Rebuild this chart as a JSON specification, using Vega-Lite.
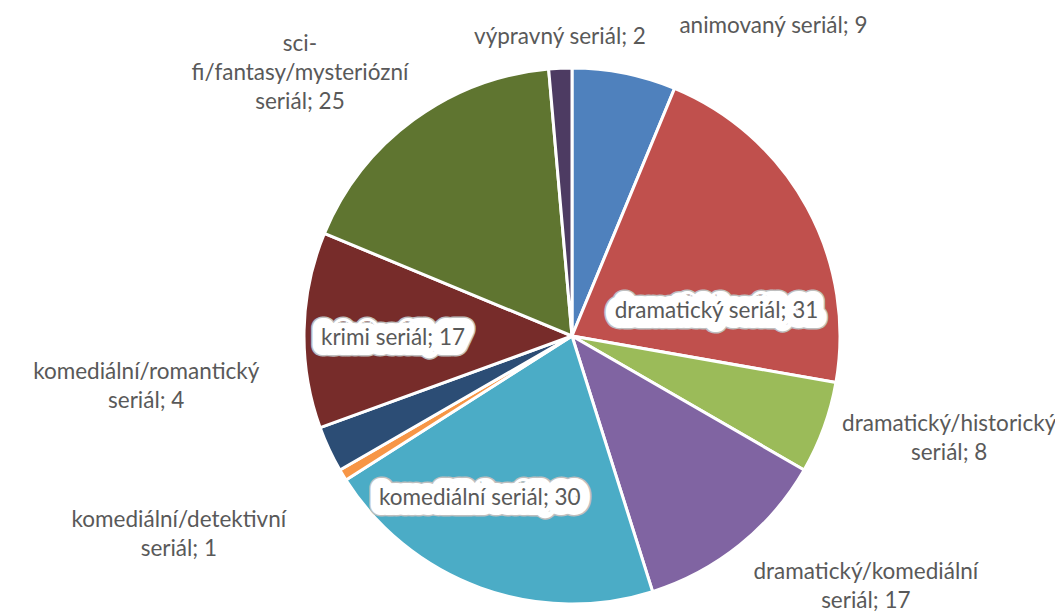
{
  "$schema": "https://vega.github.io/schema/vega-lite/v6.json",
  "width": 536,
  "height": 536,
  "autosize": {"type": "none"},
  "padding": {"left": 304, "top": 68, "right": 215, "bottom": 11},
  "background": "white",
  "config": {"view": {"stroke": null}, "text": {"font": "Lato", "fontSize": 22.5, "color": "#595959", "align": "center", "baseline": "middle", "lineBreak": "\n", "lineHeight": 29}},
  "data": {"values": [
    {"category": "animovaný seriál", "count": 9, "label": "animovaný seriál; 9"},
    {"category": "dramatický seriál", "count": 31, "label": "dramatický seriál; 31"},
    {"category": "dramatický/historický seriál", "count": 8, "label": "dramatický/historický\nseriál; 8"},
    {"category": "dramatický/komediální seriál", "count": 17, "label": "dramatický/komediální\nseriál; 17"},
    {"category": "komediální seriál", "count": 30, "label": "komediální seriál; 30"},
    {"category": "komediální/detektivní seriál", "count": 1, "label": "komediální/detektivní\nseriál; 1"},
    {"category": "komediální/romantický seriál", "count": 4, "label": "komediální/romantický\nseriál; 4"},
    {"category": "krimi seriál", "count": 17, "label": "krimi seriál; 17"},
    {"category": "sci-fi/fantasy/mysteriózní seriál", "count": 25, "label": "sci-\nfi/fantasy/mysteriózní\nseriál; 25"},
    {"category": "výpravný seriál", "count": 2, "label": "výpravný seriál; 2"}
  ]},
  "transform": [
    {"stack": "count", "groupby": [], "sort": [{"field": "category", "order": "ascending"}], "as": ["c0", "c1"]},
    {"calculate": "(datum.c0 + datum.c1) / 2", "as": "cmid"}
  ],
  "layer": [
    {
      "mark": {"type": "arc", "stroke": "white", "strokeWidth": 3},
      "encoding": {
        "theta": {"field": "count", "type": "quantitative", "stack": true},
        "order": {"field": "category", "type": "nominal", "sort": "ascending"},
        "color": {"field": "category", "type": "nominal", "legend": null,
          "scale": {"range": ["#4F81BD", "#C0504D", "#9BBB59", "#8064A2", "#4BACC6", "#F79646", "#2C4D75", "#772C2A", "#5F7530", "#4D3B62"]}}
      }
    },
    {"transform": [{"filter": "datum.category === 'dramatický seriál'"}], "mark": {"type": "text", "radius": 150, "dx": 13, "dy": 47, "color": "#BFBFBF", "stroke": "#BFBFBF", "strokeWidth": 23, "strokeJoin": "round"}, "encoding": {"theta": {"field": "cmid", "type": "quantitative", "stack": null}, "text": {"field": "label"}}},
    {"transform": [{"filter": "datum.category === 'dramatický seriál'"}], "mark": {"type": "text", "radius": 150, "dx": 13, "dy": 47, "color": "white", "stroke": "white", "strokeWidth": 20, "strokeJoin": "round"}, "encoding": {"theta": {"field": "cmid", "type": "quantitative", "stack": null}, "text": {"field": "label"}}},
    {"transform": [{"filter": "datum.category === 'komediální seriál'"}], "mark": {"type": "text", "radius": 170, "dx": -34, "dy": 2, "color": "#BFBFBF", "stroke": "#BFBFBF", "strokeWidth": 23, "strokeJoin": "round"}, "encoding": {"theta": {"field": "cmid", "type": "quantitative", "stack": null}, "text": {"field": "label"}}},
    {"transform": [{"filter": "datum.category === 'komediální seriál'"}], "mark": {"type": "text", "radius": 170, "dx": -34, "dy": 2, "color": "white", "stroke": "white", "strokeWidth": 20, "strokeJoin": "round"}, "encoding": {"theta": {"field": "cmid", "type": "quantitative", "stack": null}, "text": {"field": "label"}}},
    {"transform": [{"filter": "datum.category === 'krimi seriál'"}], "mark": {"type": "text", "radius": 180, "dx": 1, "dy": 6, "color": "#BFBFBF", "stroke": "#BFBFBF", "strokeWidth": 23, "strokeJoin": "round"}, "encoding": {"theta": {"field": "cmid", "type": "quantitative", "stack": null}, "text": {"field": "label"}}},
    {"transform": [{"filter": "datum.category === 'krimi seriál'"}], "mark": {"type": "text", "radius": 180, "dx": 1, "dy": 6, "color": "white", "stroke": "white", "strokeWidth": 20, "strokeJoin": "round"}, "encoding": {"theta": {"field": "cmid", "type": "quantitative", "stack": null}, "text": {"field": "label"}}},
    {"transform": [{"filter": "datum.category === 'animovaný seriál'"}], "mark": {"type": "text", "radius": 310, "dx": 141, "dy": -6}, "encoding": {"theta": {"field": "cmid", "type": "quantitative", "stack": null}, "text": {"field": "label"}}},
    {"transform": [{"filter": "datum.category === 'výpravný seriál'"}], "mark": {"type": "text", "radius": 299, "dx": 1, "dy": 0}, "encoding": {"theta": {"field": "cmid", "type": "quantitative", "stack": null}, "text": {"field": "label"}}},
    {"transform": [{"filter": "datum.category === 'sci-fi/fantasy/mysteriózní seriál'"}], "mark": {"type": "text", "radius": 340, "dx": -71, "dy": -18}, "encoding": {"theta": {"field": "cmid", "type": "quantitative", "stack": null}, "text": {"field": "label"}}},
    {"transform": [{"filter": "datum.category === 'dramatický seriál'"}], "mark": {"type": "text", "radius": 150, "dx": 13, "dy": 47}, "encoding": {"theta": {"field": "cmid", "type": "quantitative", "stack": null}, "text": {"field": "label"}}},
    {"transform": [{"filter": "datum.category === 'dramatický/historický seriál'"}], "mark": {"type": "text", "radius": 395, "dx": 6, "dy": -47}, "encoding": {"theta": {"field": "cmid", "type": "quantitative", "stack": null}, "text": {"field": "label"}}},
    {"transform": [{"filter": "datum.category === 'dramatický/komediální seriál'"}], "mark": {"type": "text", "radius": 380, "dx": 56, "dy": -60}, "encoding": {"theta": {"field": "cmid", "type": "quantitative", "stack": null}, "text": {"field": "label"}}},
    {"transform": [{"filter": "datum.category === 'komediální seriál'"}], "mark": {"type": "text", "radius": 170, "dx": -34, "dy": 2}, "encoding": {"theta": {"field": "cmid", "type": "quantitative", "stack": null}, "text": {"field": "label"}}},
    {"transform": [{"filter": "datum.category === 'komediální/detektivní seriál'"}], "mark": {"type": "text", "radius": 440, "dx": -17, "dy": -44}, "encoding": {"theta": {"field": "cmid", "type": "quantitative", "stack": null}, "text": {"field": "label"}}},
    {"transform": [{"filter": "datum.category === 'komediální/romantický seriál'"}], "mark": {"type": "text", "radius": 440, "dx": -27, "dy": -150}, "encoding": {"theta": {"field": "cmid", "type": "quantitative", "stack": null}, "text": {"field": "label"}}},
    {"transform": [{"filter": "datum.category === 'krimi seriál'"}], "mark": {"type": "text", "radius": 180, "dx": 1, "dy": 6}, "encoding": {"theta": {"field": "cmid", "type": "quantitative", "stack": null}, "text": {"field": "label"}}}
  ]
}
